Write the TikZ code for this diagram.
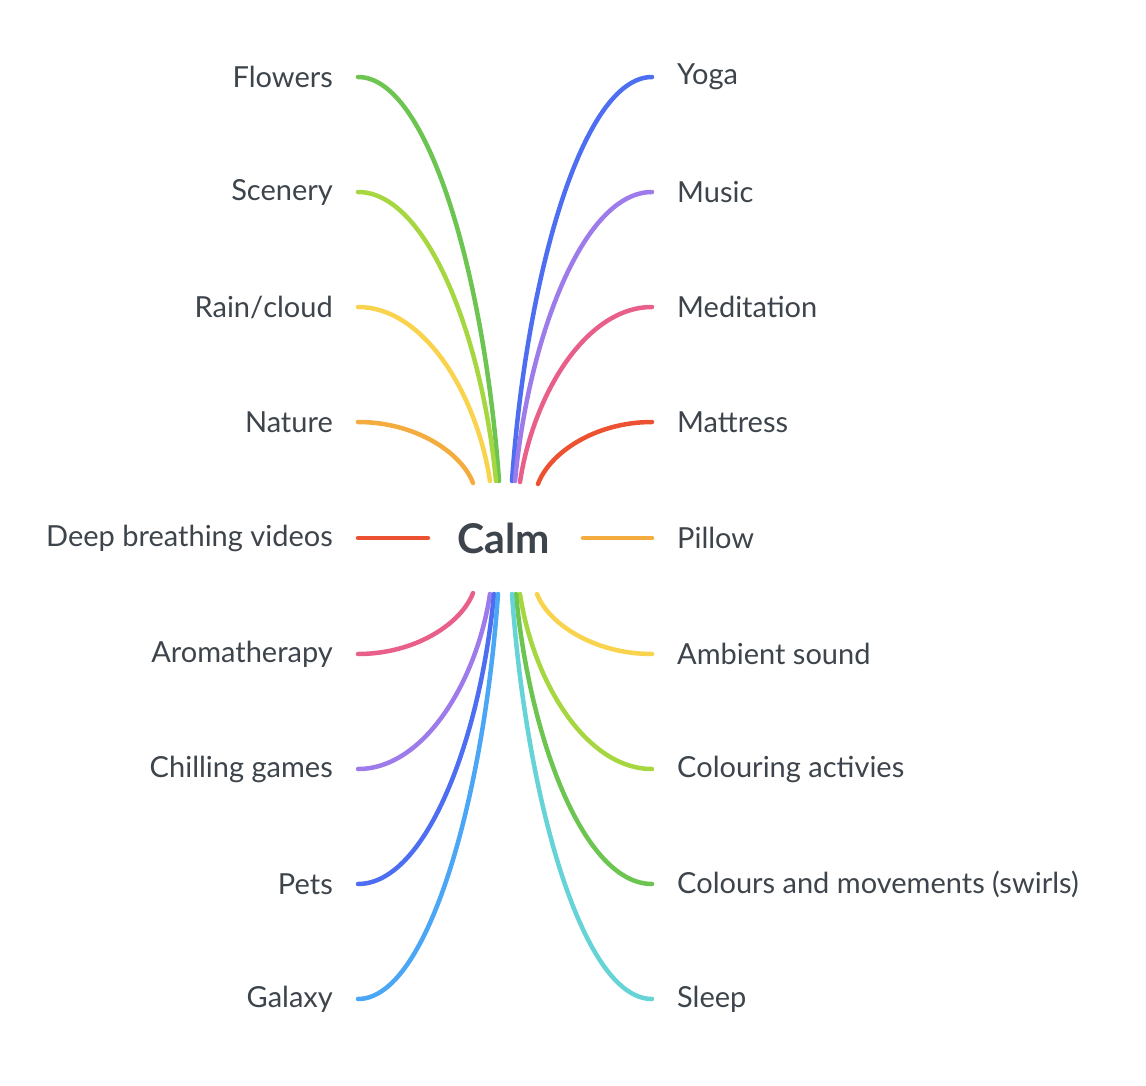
\documentclass[tikz,border=0pt]{standalone}
\usepackage{fontspec}
\setmainfont{Lato}
\usetikzlibrary{calc}
\definecolor{txt}{HTML}{3D444B}
\definecolor{cgreen}{HTML}{6CC551}
\definecolor{cygreen}{HTML}{A6D640}
\definecolor{cyellow}{HTML}{F9D34E}
\definecolor{corange}{HTML}{F4AC3E}
\definecolor{cred}{HTML}{EC5232}
\definecolor{cpink}{HTML}{E8608A}
\definecolor{cpurple}{HTML}{9D7BEA}
\definecolor{cblue}{HTML}{4E6EF2}
\definecolor{clblue}{HTML}{4BA6F5}
\definecolor{ccyan}{HTML}{66D3D6}
\tikzset{
  lbl/.style={text=txt, font=\fontsize{29}{34}\selectfont, inner sep=0pt},
  leftlbl/.style={lbl, anchor=east},
  rightlbl/.style={lbl, anchor=west},
  branch/.style={line width=4.5pt, line cap=round},
}
\begin{document}
\begin{tikzpicture}[x=1pt,y=-1pt]
\useasboundingbox (0,0) rectangle (1146,1086);
\node[text=txt, font=\bfseries\fontsize{41}{48}\selectfont, inner sep=0pt] (calm) at (504,538) {Calm};
% left side
\foreach \k/\t/\yo/\xi/\yi/\c in {
  l1/Flowers/77/499/481/cgreen,
  l2/Scenery/192/496/481/cygreen,
  l3/Rain\slash cloud/307/490/481/cyellow,
  l4/Nature/422/473/483/corange,
  l6/Aromatherapy/654/473/593/cpink,
  l7/Chilling games/769/490/594/cpurple,
  l8/Pets/884/494/594/cblue,
  l9/Galaxy/999/498/594/clblue}{
  \node[leftlbl] (\k) at (333,\yo) {\t};
  \coordinate (\k o) at (358,\yo);
  \coordinate (\k i) at (\xi,\yi);
  \draw[branch, draw=\c] let \p1=(\k o), \p2=(\k i) in
    (\k o) .. controls ({\x1+0.5*(\x2-\x1)},\y1) and ({\x2-0.1*(\x2-\x1)},{0.5*(\y1+\y2)}) .. (\k i);
}
% right side
\foreach \k/\t/\yo/\xi/\yi/\c in {
  r1/Yoga/77/512/481/cblue,
  r2/Music/192/515/481/cpurple,
  r3/Meditation/307/520/482/cpink,
  r4/Mattress/422/538/484/cred,
  r6/Ambient sound/654/537/594/cyellow,
  r7/Colouring activies/769/520/594/cygreen,
  r8/Colours and movements (swirls)/884/516/594/cgreen,
  r9/Sleep/999/512/594/ccyan}{
  \node[rightlbl] (\k) at (677,\yo) {\t};
  \coordinate (\k o) at (652,\yo);
  \coordinate (\k i) at (\xi,\yi);
  \draw[branch, draw=\c] let \p1=(\k o), \p2=(\k i) in
    (\k o) .. controls ({\x1+0.5*(\x2-\x1)},\y1) and ({\x2-0.1*(\x2-\x1)},{0.5*(\y1+\y2)}) .. (\k i);
}
% straight branches
\node[leftlbl] (l5) at (333,538) {Deep breathing videos};
\coordinate (l5o) at (358,538);
\coordinate (l5i) at (428,538);
\draw[branch, draw=cred] (l5o) -- (l5i);
\node[rightlbl] (r5) at (677,538) {Pillow};
\coordinate (r5o) at (652,538);
\coordinate (r5i) at (583,538);
\draw[branch, draw=corange] (r5o) -- (r5i);
\end{tikzpicture}
\end{document}
